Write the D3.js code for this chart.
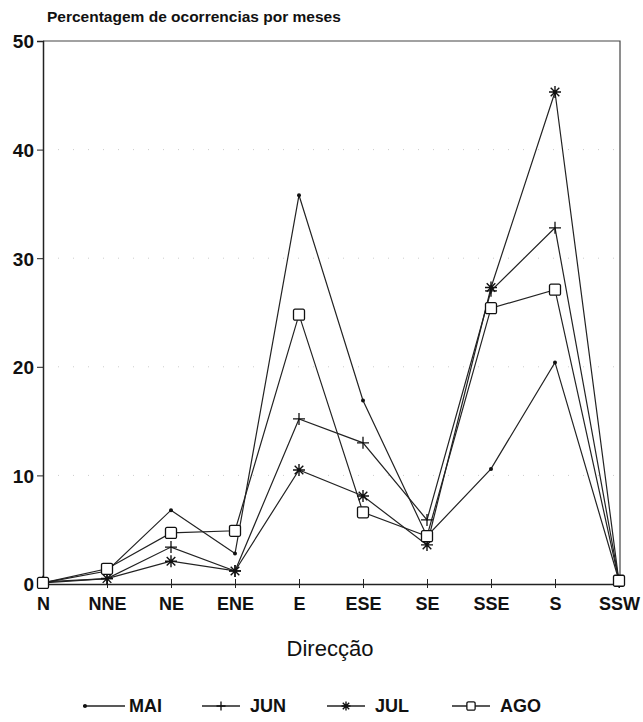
<!DOCTYPE html>
<html>
<head>
<meta charset="utf-8">
<script src="https://cdn.jsdelivr.net/npm/d3@7"></script>
<style>
  body { margin: 0; background: #fff; }
  text { font-family: "Liberation Sans", Arial, sans-serif; fill: #111; }
</style>
</head>
<body>
<svg id="canvas" width="643" height="722"></svg>
<script>
const directions = ['N', 'NNE', 'NE', 'ENE', 'E', 'ESE', 'SE', 'SSE', 'S', 'SSW']
const yTicks = [0, 10, 20, 30, 40, 50]

const mai = [0.1, 1.2, 6.8, 2.8, 35.8, 16.9, 4.4, 10.6, 20.4, 0.3]
const jun = [0.1, 0.5, 3.4, 1.2, 15.2, 13.0, 5.9, 27.0, 32.8, 0.3]
const jul = [0.2, 0.5, 2.1, 1.2, 10.5, 8.1, 3.6, 27.3, 45.3, 0.2]
const ago = [0.1, 1.4, 4.7, 4.9, 24.8, 6.6, 4.4, 25.4, 27.1, 0.3]

const series = [
  { name: 'MAI', values: mai, marker: 'dot' },
  { name: 'JUN', values: jun, marker: 'plus' },
  { name: 'JUL', values: jul, marker: 'star' },
  { name: 'AGO', values: ago, marker: 'square' }
]

const plotLeft = 43, plotRight = 619, plotTop = 41, plotBottom = 584

let canvas = d3.select('#canvas')

const x = d3.scalePoint().domain(directions).range([plotLeft, plotRight])
const y = d3.scaleLinear().domain([0, 50]).range([plotBottom, plotTop])

// faint dotted grid
canvas.selectAll('line.grid')
  .data(yTicks.filter(d => d > 0 && d < 50))
  .enter()
  .append('line')
  .attr('x1', plotLeft).attr('x2', plotRight)
  .attr('y1', d => y(d)).attr('y2', d => y(d))
  .attr('stroke', '#ccc')
  .attr('stroke-width', 1)
  .attr('stroke-dasharray', '1 14')

// frame: top and right border
canvas.append('path')
  .attr('d', `M${plotLeft},${plotTop}H${plotRight + 1}V${plotBottom}`)
  .attr('fill', 'none')
  .attr('stroke', '#444')
  .attr('stroke-width', 1.2)

let yAxis = d3.axisLeft(y).tickValues(yTicks).tickSize(6).tickPadding(3)
let yg = canvas.append('g').attr('transform', `translate(${plotLeft},0)`).call(yAxis)
yg.select('.domain').attr('stroke', '#222').attr('stroke-width', 1.5)
yg.selectAll('.tick line').attr('stroke', '#222')
yg.selectAll('text')
  .style('font-size', '19px').style('font-weight', 'bold')
  .attr('fill', '#111').attr('dy', '0.36em')

let xAxis = d3.axisBottom(x).tickSize(5).tickPadding(8).tickSizeOuter(0)
let xg = canvas.append('g').attr('transform', `translate(0,${plotBottom})`).call(xAxis)
xg.select('.domain').attr('stroke', '#222').attr('stroke-width', 1.5)
xg.selectAll('.tick line').attr('stroke', '#222').attr('y1', -5).attr('y2', 4)
xg.selectAll('text')
  .style('font-size', '18px').style('font-weight', 'bold')
  .attr('fill', '#111')

const drawMarker = (g, type, k = 1) => {
  if (type === 'dot') {
    g.append('circle').attr('r', 2).attr('fill', '#111')
  } else if (type === 'plus') {
    g.append('path').attr('d', `M${-6 * k},0H${6 * k}M0,${-6 * k}V${6 * k}`)
      .attr('stroke', '#111').attr('stroke-width', 1.3)
  } else if (type === 'star') {
    g.append('path')
      .attr('d', `M${-6 * k},0H${6 * k}M0,${-6 * k}V${6 * k}M${-4.3 * k},${-4.3 * k}L${4.3 * k},${4.3 * k}M${4.3 * k},${-4.3 * k}L${-4.3 * k},${4.3 * k}`)
      .attr('stroke', '#111').attr('stroke-width', 1.4)
  } else if (type === 'square') {
    g.append('rect').attr('x', -5.5 * k).attr('y', -5.5 * k)
      .attr('width', 11 * k).attr('height', 11 * k)
      .attr('rx', 1.5)
      .attr('fill', '#fff').attr('stroke', '#111').attr('stroke-width', 1.3)
  }
}

const line = d3.line()
  .x((d, i) => x(directions[i]))
  .y(d => y(d))

series.forEach(s => {
  canvas.append('path')
    .datum(s.values)
    .attr('d', line)
    .attr('fill', 'none')
    .attr('stroke', '#222')
    .attr('stroke-width', 1.2)
})

series.forEach(s => {
  canvas.selectAll(null)
    .data(s.values)
    .enter()
    .append('g')
    .attr('transform', (d, i) => `translate(${x(directions[i])},${y(d)})`)
    .each(function() { drawMarker(d3.select(this), s.marker) })
})

canvas.append('text')
  .attr('x', 47).attr('y', 22)
  .style('font-size', '15.5px').style('font-weight', 'bold')
  .text('Percentagem de ocorrencias por meses')

canvas.append('text')
  .attr('x', 330).attr('y', 656)
  .attr('text-anchor', 'middle')
  .style('font-size', '22px')
  .text('Direcção')

// legend
const legendX = [83, 202, 327, 452]
series.forEach((s, i) => {
  let g = canvas.append('g').attr('transform', `translate(${legendX[i]},712)`)
  let len = s.marker === 'dot' ? 42 : 38
  g.append('line').attr('x1', 0).attr('x2', len).attr('y1', -6).attr('y2', -6)
    .attr('stroke', '#222').attr('stroke-width', 1.3)
  let m = g.append('g').attr('transform', `translate(${s.marker === 'dot' ? 2 : 19},-6)`)
  drawMarker(m, s.marker, 0.75)
  g.append('text').attr('x', s.marker === 'dot' ? 46 : 48).attr('y', 0)
    .style('font-size', '18px').style('font-weight', 'bold')
    .text(s.name)
})
</script>
</body>
</html>
